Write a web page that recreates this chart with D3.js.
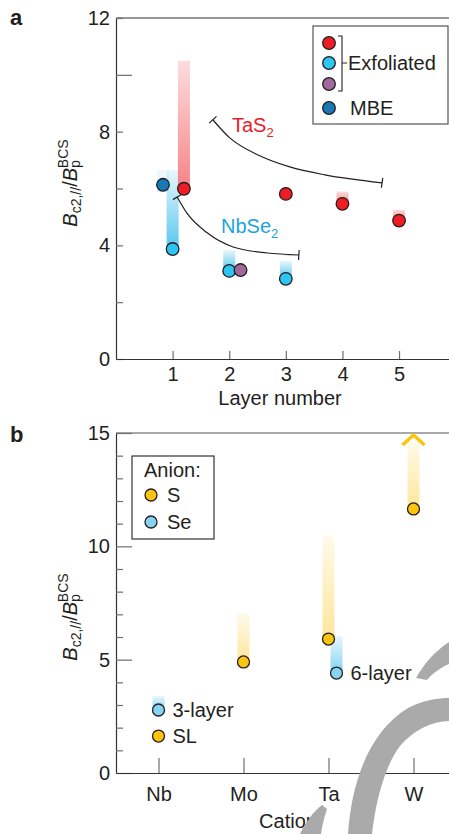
<!DOCTYPE html>
<html>
<head>
<meta charset="utf-8">
<script src="https://cdn.jsdelivr.net/npm/d3@7"></script>
<style>
  body { margin: 0; background: #fff; }
  svg { display: block; font-family: 'Liberation Sans', Arial, sans-serif; }
</style>
</head>
<body>
<div id="chart"></div>
<script>
/* global d3 */

// ---- panel a: layer dependence ----
const tas2Layer = [1.2, 3, 4, 5]
const tas2Value = [5.99, 5.81, 5.46, 4.87]
const tas2Top = [10.5, 5.95, 5.89, 5.25]
const nbse2Layer = [1, 2, 3]
const nbse2Value = [3.87, 3.1, 2.82]
const nbse2Top = [6.65, 3.84, 3.45]
const purpleLayer = [2.2]
const purpleValue = [3.13]
const mbeLayer = [0.83]
const mbeValue = [6.13]
const mbeTop = [6.65]
const tas2FitX = [1.71, 2.01, 2.51, 3.07, 3.69, 4.7]
const tas2FitY = [8.42, 7.78, 7.18, 6.76, 6.48, 6.2]
const nbse2FitX = [1.08, 1.25, 1.61, 2.07, 2.67, 3.23]
const nbse2FitY = [5.7, 5.14, 4.44, 3.94, 3.73, 3.66]
const yTicksA = [0, 2, 4, 6, 8, 10, 12]
const yLabelsA = [0, 4, 8, 12]
const xTicksA = [1, 2, 3, 4, 5]
const legendA = ['Exfoliated', 'MBE']

// ---- panel b: cation dependence ----
const cations = ['Nb', 'Mo', 'Ta', 'W']
const sCation = ['Nb', 'Mo', 'Ta', 'W']
const sValue = [1.63, 4.9, 5.91, 11.65]
const sTop = [null, 7.06, 10.5, 14.6]
const sNote = ['SL', null, null, null]
const seCation = ['Nb', 'Ta']
const seValue = [2.78, 4.41]
const seTop = [3.4, 6.04]
const seNote = ['3-layer', '6-layer']
const yTicksB = d3.range(0, 16)
const yLabelsB = [0, 5, 10, 15]

const RED = '#ee1d24'
const CYAN = '#2ec5f2'
const PURPLE = '#a0689f'
const MBE = '#1878b6'
const YELLOW = '#fdc40f'
const LBLUE = '#86d3f2'
const INK = '#231f20'

const svg = d3.select('#chart').append('svg')
  .attr('width', 449)
  .attr('height', 834)

const defs = svg.append('defs')
function grad(id, color, lo, hi) {
  const g = defs.append('linearGradient').attr('id', id)
    .attr('x1', 0).attr('y1', 1).attr('x2', 0).attr('y2', 0)
  g.append('stop').attr('offset', 0).attr('stop-color', color).attr('stop-opacity', lo)
  g.append('stop').attr('offset', 1).attr('stop-color', color).attr('stop-opacity', hi)
}
grad('gRed', RED, 0.55, 0.15)
grad('gCyan', '#1fb3ea', 0.75, 0.1)
grad('gMbe', '#7fd0f2', 0.25, 0.12)
grad('gYel', YELLOW, 0.42, 0.08)
grad('gBlue', '#4cc0ee', 0.7, 0.12)

// y-axis title with sub/superscripts
function yTitle(x, y) {
  const t = svg.append('text')
    .attr('transform', `translate(${x},${y}) rotate(-90)`)
    .attr('text-anchor', 'middle')
    .attr('font-size', 20)
    .attr('fill', INK)
  t.append('tspan').attr('font-style', 'italic').text('B')
  t.append('tspan').attr('font-size', 14).attr('dy', 4).text('c2,//')
  t.append('tspan').attr('dy', -4).text('/')
  t.append('tspan').attr('font-style', 'italic').text('B')
  t.append('tspan').attr('font-size', 14).attr('dy', 3).text('p')
  t.append('tspan').attr('font-size', 14).attr('dx', -8).attr('dy', -12).text('BCS')
}

function styleAxis(g) {
  g.attr('font-size', 20).attr('font-family', null).style('color', INK)
  g.select('.domain').attr('stroke', '#333').attr('stroke-width', 1.2)
  g.selectAll('.tick line').attr('stroke', '#6d6e71').attr('stroke-width', 1.2)
}

// ================= panel a =================
const xA = d3.scaleLinear().domain([0, 5.9]).range([116, 450])
const yA = d3.scaleLinear().domain([0, 12]).range([359, 18])

svg.append('text').attr('x', 10).attr('y', 25)
  .attr('font-size', 22).attr('font-weight', 'bold').attr('fill', INK).text('a')

svg.append('line').attr('x1', 116).attr('x2', 449).attr('y1', yA(12)).attr('y2', yA(12))
  .attr('stroke', '#333').attr('stroke-width', 1.2)

svg.append('g').attr('transform', `translate(${xA(0)},0)`)
  .call(d3.axisLeft(yA).tickValues(yTicksA).tickSizeInner(-7).tickSizeOuter(0).tickPadding(6)
    .tickFormat((d) => yLabelsA.includes(d) ? d : ''))
  .call(styleAxis)
  .call((g) => g.selectAll('.tick line').attr('x2', (d) => d === 10 ? 16 : 7))

svg.append('g').attr('transform', `translate(0,${yA(0)})`)
  .call(d3.axisBottom(xA).tickValues(xTicksA).tickFormat(d3.format('d'))
    .tickSizeInner(-8).tickSizeOuter(0).tickPadding(8))
  .call(styleAxis)

svg.append('text').attr('x', 280).attr('y', 405).attr('text-anchor', 'middle')
  .attr('font-size', 20).attr('fill', INK).text('Layer number')
yTitle(77, 183)

// bars
const BW = 12
function barsA(xs, lows, tops, fill) {
  svg.append('g').selectAll('rect')
    .data(xs.map((x, i) => ({ x, lo: lows[i], hi: tops[i] })).filter((d) => d.hi != null))
    .join('rect')
    .attr('x', (d) => xA(d.x) - BW / 2)
    .attr('width', BW)
    .attr('y', (d) => yA(d.hi))
    .attr('height', (d) => yA(d.lo) - yA(d.hi))
    .attr('fill', fill)
}
barsA(mbeLayer, mbeValue.map((v) => v - 0.25), mbeTop, 'url(#gMbe)')
barsA(nbse2Layer, nbse2Value, nbse2Top, 'url(#gCyan)')
barsA(tas2Layer, tas2Value, tas2Top, 'url(#gRed)')

// fit curves with end bars
function fitCurve(xs, ys) {
  const pts = xs.map((x, i) => [xA(x), yA(ys[i])])
  svg.append('path')
    .attr('d', d3.line().curve(d3.curveMonotoneX)(pts))
    .attr('fill', 'none').attr('stroke', INK).attr('stroke-width', 1.2)
  const caps = [[pts[0], pts[1]], [pts[pts.length - 1], pts[pts.length - 2]]]
  caps.forEach(([p, q]) => {
    const dx = q[0] - p[0]
    const dy = q[1] - p[1]
    const len = Math.hypot(dx, dy)
    const nx = -dy / len * 5
    const ny = dx / len * 5
    svg.append('line')
      .attr('x1', p[0] - nx).attr('y1', p[1] - ny)
      .attr('x2', p[0] + nx).attr('y2', p[1] + ny)
      .attr('stroke', INK).attr('stroke-width', 1.2)
  })
}
fitCurve(tas2FitX, tas2FitY)
fitCurve(nbse2FitX, nbse2FitY)

function subLabel(x, y, main, sub, color) {
  const t = svg.append('text').attr('x', x).attr('y', y)
    .attr('font-size', 20).attr('fill', color)
  t.append('tspan').text(main)
  t.append('tspan').attr('font-size', 13).attr('dy', 5).text(sub)
}
subLabel(232, 132, 'TaS', '2', '#e8202a')
subLabel(221, 233, 'NbSe', '2', '#1ba3e0')

// points
function dotsA(xs, vs, fill) {
  svg.append('g').selectAll('circle')
    .data(xs.map((x, i) => ({ x, v: vs[i] })))
    .join('circle')
    .attr('cx', (d) => xA(d.x))
    .attr('cy', (d) => yA(d.v))
    .attr('r', 6.3)
    .attr('fill', fill)
    .attr('stroke', INK)
    .attr('stroke-width', 1.3)
}
dotsA(mbeLayer, mbeValue, MBE)
dotsA(nbse2Layer, nbse2Value, CYAN)
dotsA(purpleLayer, purpleValue, PURPLE)
dotsA(tas2Layer, tas2Value, RED)

// legend a
const legA = svg.append('g')
legA.append('rect').attr('x', 313).attr('y', 26).attr('width', 135).attr('height', 98)
  .attr('fill', '#fff').attr('stroke', '#555').attr('stroke-width', 1.2)
legA.selectAll('circle')
  .data([[43, RED], [63, CYAN], [84, PURPLE], [108, MBE]])
  .join('circle')
  .attr('cx', 329).attr('cy', (d) => d[0]).attr('r', 6.3)
  .attr('fill', (d) => d[1]).attr('stroke', INK).attr('stroke-width', 1.3)
legA.append('path').attr('d', 'M338,36H342V91H338M342,63H347')
  .attr('fill', 'none').attr('stroke', INK).attr('stroke-width', 1.1)
legA.append('text').attr('x', 348).attr('y', 70).attr('font-size', 20).attr('fill', INK).text(legendA[0])
legA.append('text').attr('x', 350).attr('y', 115).attr('font-size', 20).attr('fill', INK).text(legendA[1])

// ================= panel b =================
const xB = d3.scalePoint().domain(cations).range([116, 456]).padding(0.5)
const yB = d3.scaleLinear().domain([0, 15]).range([773, 433])
const dodge = { Ta: 8 }

svg.append('text').attr('x', 10).attr('y', 442)
  .attr('font-size', 22).attr('font-weight', 'bold').attr('fill', INK).text('b')

svg.append('line').attr('x1', 116).attr('x2', 449).attr('y1', yB(15)).attr('y2', yB(15))
  .attr('stroke', '#555').attr('stroke-width', 1.2)

svg.append('g').attr('transform', `translate(116,0)`)
  .call(d3.axisLeft(yB).tickValues(yTicksB).tickSizeInner(-7).tickSizeOuter(0).tickPadding(6)
    .tickFormat((d) => yLabelsB.includes(d) ? d : ''))
  .call(styleAxis)
  .call((g) => g.selectAll('.tick line').attr('x2', (d) => d % 5 === 0 ? 16 : 7))

svg.append('g').attr('transform', `translate(0,${yB(0)})`)
  .call(d3.axisBottom(xB).tickSizeInner(-15).tickSizeOuter(0).tickPadding(14))
  .call(styleAxis)

svg.append('text').attr('x', 288).attr('y', 828).attr('text-anchor', 'middle')
  .attr('font-size', 20).attr('fill', INK).text('Cation')
yTitle(77, 617)

const sData = sCation.map((c, i) => ({ c, v: sValue[i], hi: sTop[i], note: sNote[i], dx: 0 }))
const seData = seCation.map((c, i) => ({ c, v: seValue[i], hi: seTop[i], note: seNote[i], dx: dodge[c] || 0 }))

function barsB(data, fill) {
  svg.append('g').selectAll('rect')
    .data(data.filter((d) => d.hi != null))
    .join('rect')
    .attr('x', (d) => xB(d.c) + d.dx - BW / 2)
    .attr('width', BW)
    .attr('y', (d) => yB(d.hi))
    .attr('height', (d) => yB(d.v) - yB(d.hi))
    .attr('fill', fill)
}
barsB(sData, 'url(#gYel)')
barsB(seData, 'url(#gBlue)')

// lower-bound arrow on W
const wTop = sData.find((d) => d.c === 'W')
svg.append('path')
  .attr('d', `M${xB('W') - 11},${yB(wTop.hi) + 3}L${xB('W')},${yB(wTop.hi) - 7}L${xB('W') + 11},${yB(wTop.hi) + 3}`)
  .attr('fill', 'none').attr('stroke', YELLOW).attr('stroke-width', 3.5)

function dotsB(data, fill) {
  const g = svg.append('g')
  g.selectAll('circle')
    .data(data)
    .join('circle')
    .attr('cx', (d) => xB(d.c) + d.dx)
    .attr('cy', (d) => yB(d.v))
    .attr('r', 6)
    .attr('fill', fill)
    .attr('stroke', INK)
    .attr('stroke-width', 1.3)
  g.selectAll('text')
    .data(data.filter((d) => d.note))
    .join('text')
    .attr('x', (d) => xB(d.c) + d.dx + 14)
    .attr('y', (d) => yB(d.v) + 7)
    .attr('font-size', 20)
    .attr('fill', INK)
    .text((d) => d.note)
}
dotsB(seData, LBLUE)
dotsB(sData, YELLOW)

// legend b
const legB = svg.append('g')
legB.append('rect').attr('x', 132).attr('y', 456).attr('width', 82).attr('height', 83)
  .attr('fill', '#fff').attr('stroke', '#333').attr('stroke-width', 1.2)
legB.append('text').attr('x', 144).attr('y', 477).attr('font-size', 20).attr('fill', INK).text('Anion:')
legB.selectAll('circle')
  .data([[495, YELLOW], [522, LBLUE]])
  .join('circle')
  .attr('cx', 151).attr('cy', (d) => d[0]).attr('r', 6)
  .attr('fill', (d) => d[1]).attr('stroke', INK).attr('stroke-width', 1.3)
legB.append('text').attr('x', 167).attr('y', 502).attr('font-size', 20).attr('fill', INK).text('S')
legB.append('text').attr('x', 167).attr('y', 529).attr('font-size', 20).attr('fill', INK).text('Se')

// grey watermark fragments in the corner
const mark = svg.append('g').attr('fill', '#aaa')
mark.append('path').attr('d', 'M348,834C352,776 372,730 408,708C424,700 438,698 449,698L449,721C432,721 414,730 400,746C386,764 376,798 372,834Z')
mark.append('path').attr('d', 'M416,678C424,664 434,652 449,642L449,664C440,668 432,674 427,680Z')
mark.append('path').attr('d', 'M300,834C306,822 313,812 322,805L327,809C324,818 322,826 321,834Z')
</script>
</body>
</html>
